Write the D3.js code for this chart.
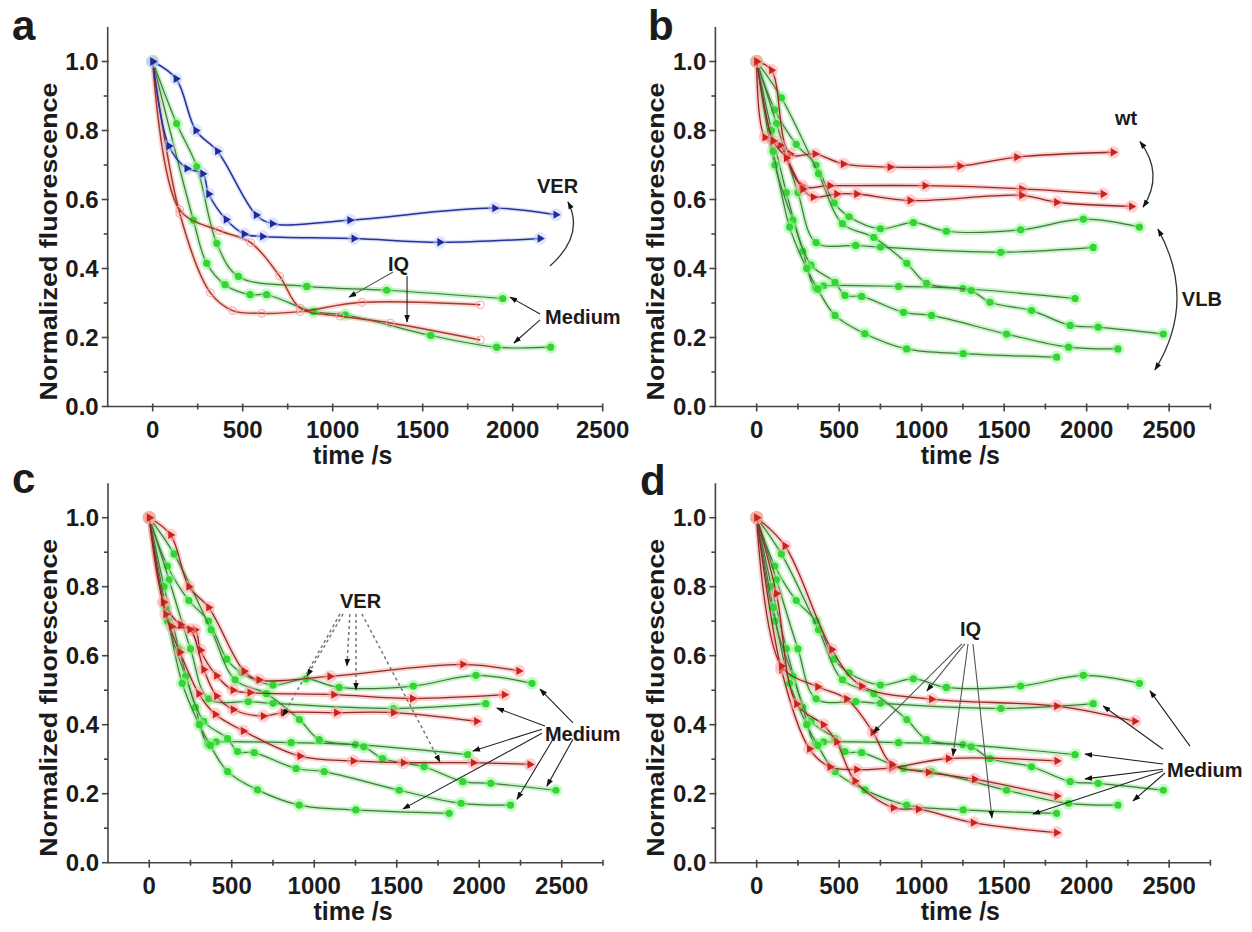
<!DOCTYPE html>
<html>
<head>
<meta charset="utf-8">
<script src="https://cdn.jsdelivr.net/npm/d3@7"></script>
<style>
  body { margin: 0; background: #fff; }
  text { font-family: Arial, "Liberation Sans", sans-serif; font-weight: bold; fill: #1b1b1b; }
</style>
</head>
<body>
<svg id="chart" width="1252" height="932"></svg>
<script>
// ---- data: [time (s), normalized fluorescence] ----
// VER treated cells (blue in a, red in c)
var ver1 = [[0,1],[130,0.95],[240,0.80],[360,0.74],[575,0.555],[665,0.53],[1095,0.54],[1900,0.575],[2240,0.556]];
var ver2 = [[0,1],[90,0.755],[190,0.69],[278,0.675],[311,0.616],[408,0.542],[508,0.50],[610,0.493],[1118,0.487],[1595,0.476],[2152,0.487]];
var ver3 = [[0,1],[85,0.755],[135,0.685],[246,0.676],[330,0.56],[408,0.483],[509,0.444],[691,0.425],[812,0.435],[1135,0.435],[1480,0.435],[1984,0.41]];
var ver4 = [[0,1],[100,0.72],[186,0.61],[300,0.49],[400,0.43],[570,0.382],[913,0.309],[1236,0.295],[1540,0.29],[1964,0.29],[2307,0.285]];

// IQ treated cells
var iq1 = [[0,1],[150,0.56],[320,0.33],[444,0.278],[606,0.27],[818,0.275],[1162,0.302],[1820,0.295]];
var iq2 = [[0,1],[150,0.57],[370,0.51],[545,0.475],[705,0.378],[820,0.285],[1040,0.262],[1320,0.242],[1820,0.193]];
var iq3 = [[0,1],[172,0.918],[455,0.618],[636,0.512],[1060,0.474],[1818,0.454],[2292,0.41]];
var iq4 = [[0,1],[120,0.78],[242,0.46],[404,0.40],[485,0.35],[596,0.237],[828,0.159],[980,0.155],[1313,0.116],[1818,0.087]];

// wild type (panel b, red)
var wt1 = [[0,1],[90,0.975],[202,0.732],[354,0.732],[525,0.703],[808,0.694],[1232,0.697],[1576,0.723],[2161,0.737]];
var wt2 = [[0,1],[50,0.78],[141,0.757],[273,0.64],[444,0.64],[1020,0.64],[1606,0.631],[2100,0.616]];
var wt3 = [[0,1],[100,0.77],[180,0.72],[280,0.63],[343,0.607],[485,0.616],[606,0.616],[929,0.597],[1606,0.612],[1818,0.592],[2272,0.58]];

// medium controls in panel a
var medA1 = [[0,1],[133,0.82],[245,0.695],[356,0.473],[476,0.377],[856,0.348],[1300,0.337],[1945,0.313]];
var medA2 = [[0,1],[226,0.54],[300,0.415],[402,0.353],[541,0.324],[633,0.324],[893,0.275],[1070,0.266],[1544,0.206],[1911,0.172],[2211,0.172]];

// green curves shared by b, c, d
var med1 = [[0,1],[110,0.86],[240,0.76],[360,0.70],[470,0.59],[560,0.55],[750,0.515],[950,0.533],[1150,0.508],[1600,0.512],[1980,0.543],[2320,0.52]];
var med2 = [[0,1],[120,0.82],[250,0.62],[360,0.475],[600,0.467],[750,0.462],[1480,0.447],[2040,0.461]];
var med3 = [[0,1],[90,0.80],[180,0.62],[280,0.45],[355,0.345],[405,0.35],[860,0.348],[1250,0.342],[1930,0.313]];
var med4 = [[0,1],[150,0.895],[375,0.675],[520,0.53],[710,0.49],[910,0.415],[1030,0.357],[1300,0.336],[1414,0.302],[1666,0.278],[1900,0.235],[2070,0.23],[2465,0.21]];
var med5 = [[0,1],[110,0.70],[220,0.54],[330,0.41],[475,0.36],[535,0.322],[636,0.319],[890,0.273],[1060,0.264],[1515,0.21],[1890,0.172],[2190,0.167]];
var med6 = [[0,1],[100,0.74],[200,0.52],[303,0.40],[370,0.34],[475,0.264],[656,0.211],[909,0.167],[1252,0.153],[1818,0.143]];
var medAll = [med1, med2, med3, med4, med5, med6];

// axis ticks
var xTicks = [0, 500, 1000, 1500, 2000, 2500];
var yTicks = [0, 0.2, 0.4, 0.6, 0.8, 1.0];
var yMinor = [0.1, 0.3, 0.5, 0.7, 0.9];

// ---- styles ----
var styles = {
  green: {line: '#4f6f48', halo: '#86ee86', lw: 1.2, hw: 5, mark: 'circle', fill: '#34d434', mhalo: '#93f593'},
  red:   {line: '#8e2a24', halo: '#f5a2a2', lw: 1.3, hw: 5, mark: 'tri', fill: '#c8231c', mhalo: '#ffa8a8'},
  blue:  {line: '#27319c', halo: '#b3c4f2', lw: 1.5, hw: 4, mark: 'tri', fill: '#1d2a9a', mhalo: '#c3d0f7'},
  redA:  {line: '#a23a2f', halo: '#f6b0a6', lw: 1.5, hw: 5, mark: 'hollow', fill: '#f3a8a8', mhalo: null}
};

// ---- panels ----
var panels = [
  {letter: 'a', lx: 12, ly: 40, left: 107.7, bottom: 406.5, xmax: 2500,
   series: [[medA1,'green'],[medA2,'green'],[iq1,'redA'],[iq2,'redA'],[ver1,'blue'],[ver2,'blue']]},
  {letter: 'b', lx: 648, ly: 40, left: 715.4, bottom: 406.5, xmax: 2750,
   series: medAll.map(function(d){ return [d,'green']; }).concat([[wt1,'red'],[wt2,'red'],[wt3,'red']])},
  {letter: 'c', lx: 12, ly: 493, left: 108, bottom: 862.7, xmax: 2750,
   series: medAll.map(function(d){ return [d,'green']; }).concat([[ver1,'red'],[ver2,'red'],[ver3,'red'],[ver4,'red']])},
  {letter: 'd', lx: 640, ly: 495, left: 715.4, bottom: 862.7, xmax: 2750,
   series: medAll.map(function(d){ return [d,'green']; }).concat([[iq1,'red'],[iq2,'red'],[iq3,'red'],[iq4,'red']])}
];

// annotations, in data units of each panel
var notes = {
  a: {texts: [['VER',2135,0.619],['IQ',1307,0.393],['Medium',2180,0.239]],
      arrows: [[1335,0.39,1091,0.317,'#555',0],[1413,0.378,1413,0.245,'#222',0],
               [2152,0.268,1985,0.317,'#222',0],[2152,0.251,2007,0.184,'#222',0]],
      arcs: [[2207,0.407,2401,0.497,2307,0.593,false]]},
  b: {texts: [['wt',2172,0.816],['VLB',2577,0.291]],
      arrows: [],
      arcs: [[2323,0.768,2472,0.674,2342,0.578,true],[2432,0.514,2672,0.307,2414,0.106,true]]},
  c: {texts: [['VER',1156,0.738],['Medium',2398,0.352]],
      arrows: [[1175,0.721,956,0.541,'#777',1],[1156,0.721,810,0.425,'#777',1],[1216,0.721,1198,0.570,'#777',1],
               [1253,0.721,1253,0.501,'#777',1],[1289,0.721,1762,0.292,'#777',1],
               [2568,0.405,2368,0.503,'#222',0],[2398,0.396,2107,0.448,'#222',0],[2380,0.387,1962,0.324,'#222',0],
               [2380,0.375,1538,0.156,'#222',0],[2447,0.358,2229,0.184,'#222',0],[2568,0.358,2410,0.222,'#222',0]],
      arcs: []},
  d: {texts: [['IQ',1232,0.657],['Medium',2487,0.249]],
      arrows: [[1262,0.634,1032,0.498,'#555',0],[1244,0.634,705,0.376,'#555',0],[1281,0.634,1190,0.31,'#555',0],
               [1311,0.634,1426,0.130,'#555',0],
               [2626,0.338,2384,0.498,'#222',0],[2463,0.329,2100,0.454,'#222',0],[2463,0.286,1990,0.315,'#222',0],
               [2463,0.271,1990,0.243,'#222',0],[2475,0.260,2281,0.179,'#222',0],[2463,0.266,1675,0.141,'#222',0]],
      arcs: []}
};

var svg = d3.select('#chart');
var W = 495, H = 379.5;

svg.append('defs').append('marker')
  .attr('id', 'arr')
  .attr('viewBox', '0 0 10 10')
  .attr('refX', 9).attr('refY', 5)
  .attr('markerWidth', 8).attr('markerHeight', 8)
  .attr('markerUnits', 'userSpaceOnUse')
  .attr('orient', 'auto-start-reverse')
  .append('path').attr('d', 'M0,1.5 L10,5 L0,8.5 z').attr('fill', '#111');

var triangle = d3.symbol().type(d3.symbolTriangle).size(30);

panels.forEach(function(p) {
  var x = d3.scaleLinear().domain([-250, p.xmax]).range([p.left, p.left + W]);
  var y = d3.scaleLinear().domain([0, 1.1]).range([p.bottom, p.bottom - H]);
  var g = svg.append('g');

  var line = d3.line()
    .x(function(d) { return x(d[0]); })
    .y(function(d) { return y(d[1]); })
    .curve(d3.curveCatmullRom.alpha(0.5));

  // greens first, the treated curves on top
  var ordered = p.series.filter(function(s){ return s[1] === 'green'; })
    .concat(p.series.filter(function(s){ return s[1] !== 'green'; }));

  ordered.forEach(function(s) {
    var st = styles[s[1]];
    g.append('path').datum(s[0]).attr('d', line)
      .attr('fill', 'none').attr('stroke', st.halo)
      .attr('stroke-width', st.hw).attr('stroke-opacity', 0.5);
  });
  ordered.forEach(function(s) {
    var st = styles[s[1]];
    g.append('path').datum(s[0]).attr('d', line)
      .attr('fill', 'none').attr('stroke', st.line)
      .attr('stroke-width', st.lw);
    var pts = g.append('g').selectAll('g').data(s[0]).join('g')
      .attr('transform', function(d) { return 'translate(' + x(d[0]) + ',' + y(d[1]) + ')'; });
    if (st.mhalo) pts.append('circle').attr('r', 6.5).attr('fill', st.mhalo).attr('opacity', 0.5);
    if (st.mark === 'circle') {
      pts.append('circle').attr('r', 3.6).attr('fill', st.fill);
    } else if (st.mark === 'tri') {
      pts.append('path').attr('d', triangle).attr('transform', 'rotate(90)').attr('fill', st.fill);
    } else {
      pts.append('circle').attr('r', 4).attr('fill', 'none').attr('stroke', st.fill).attr('stroke-width', 1);
    }
  });

  // axes
  var ax = g.append('g').attr('stroke', '#444').attr('stroke-width', 1.6);
  ax.append('line').attr('x1', x(-250)).attr('x2', x(p.xmax)).attr('y1', y(0)).attr('y2', y(0));
  ax.append('line').attr('x1', x(-250)).attr('x2', x(-250)).attr('y1', y(0)).attr('y2', y(1.1));
  var xMinor = d3.range(250, p.xmax + 1, 500);
  ax.selectAll('.xt').data(xTicks).join('line')
    .attr('x1', function(d){ return x(d); }).attr('x2', function(d){ return x(d); })
    .attr('y1', y(0) - 3).attr('y2', y(0) + 5);
  ax.selectAll('.xm').data(xMinor).join('line').attr('class', 'xm')
    .attr('x1', function(d){ return x(d); }).attr('x2', function(d){ return x(d); })
    .attr('y1', y(0) - 3).attr('y2', y(0) + 3);
  ax.selectAll('.yt').data(yTicks).join('line').attr('class', 'yt')
    .attr('x1', x(-250) - 6).attr('x2', x(-250) + 1)
    .attr('y1', function(d){ return y(d); }).attr('y2', function(d){ return y(d); });
  ax.selectAll('.ym').data(yMinor).join('line').attr('class', 'ym')
    .attr('x1', x(-250) - 4).attr('x2', x(-250))
    .attr('y1', function(d){ return y(d); }).attr('y2', function(d){ return y(d); });

  g.selectAll('.xl').data(xTicks).join('text').attr('class', 'xl')
    .attr('x', function(d){ return x(d); }).attr('y', y(0) + 31)
    .attr('text-anchor', 'middle').attr('font-size', 24)
    .text(function(d){ return d; });
  g.selectAll('.yl').data(yTicks).join('text').attr('class', 'yl')
    .attr('x', x(-250) - 9).attr('y', function(d){ return y(d); })
    .attr('dy', '0.36em').attr('text-anchor', 'end').attr('font-size', 24)
    .text(d3.format('.1f'));

  g.append('text')
    .attr('transform', 'translate(' + (p.left - 51) + ',' + (p.bottom - 165) + ') rotate(-90)')
    .attr('text-anchor', 'middle').attr('font-size', 24)
    .attr('textLength', 318).attr('lengthAdjust', 'spacingAndGlyphs')
    .text('Normalized fluorescence');
  g.append('text')
    .attr('x', p.left + 245).attr('y', p.bottom + 57)
    .attr('text-anchor', 'middle').attr('font-size', 25)
    .text('time /s');
  g.append('text').attr('x', p.lx).attr('y', p.ly).attr('font-size', 42).text(p.letter);

  // annotations
  var n = notes[p.letter];
  n.arrows.forEach(function(a) {
    g.append('line')
      .attr('x1', x(a[0])).attr('y1', y(a[1])).attr('x2', x(a[2])).attr('y2', y(a[3]))
      .attr('stroke', a[4]).attr('stroke-width', a[5] ? 1.5 : 1.1)
      .attr('stroke-dasharray', a[5] ? '3,3' : null)
      .attr('marker-end', 'url(#arr)');
  });
  n.arcs.forEach(function(a) {
    var path = d3.path();
    path.moveTo(x(a[0]), y(a[1]));
    path.quadraticCurveTo(x(a[2]), y(a[3]), x(a[4]), y(a[5]));
    g.append('path').attr('d', path.toString())
      .attr('fill', 'none').attr('stroke', '#333').attr('stroke-width', 1.3)
      .attr('marker-end', 'url(#arr)')
      .attr('marker-start', a[6] ? 'url(#arr)' : null);
  });
  n.texts.forEach(function(t) {
    g.append('text').attr('x', x(t[1])).attr('y', y(t[2]))
      .attr('font-size', 20).text(t[0]);
  });
});
</script>
</body>
</html>
